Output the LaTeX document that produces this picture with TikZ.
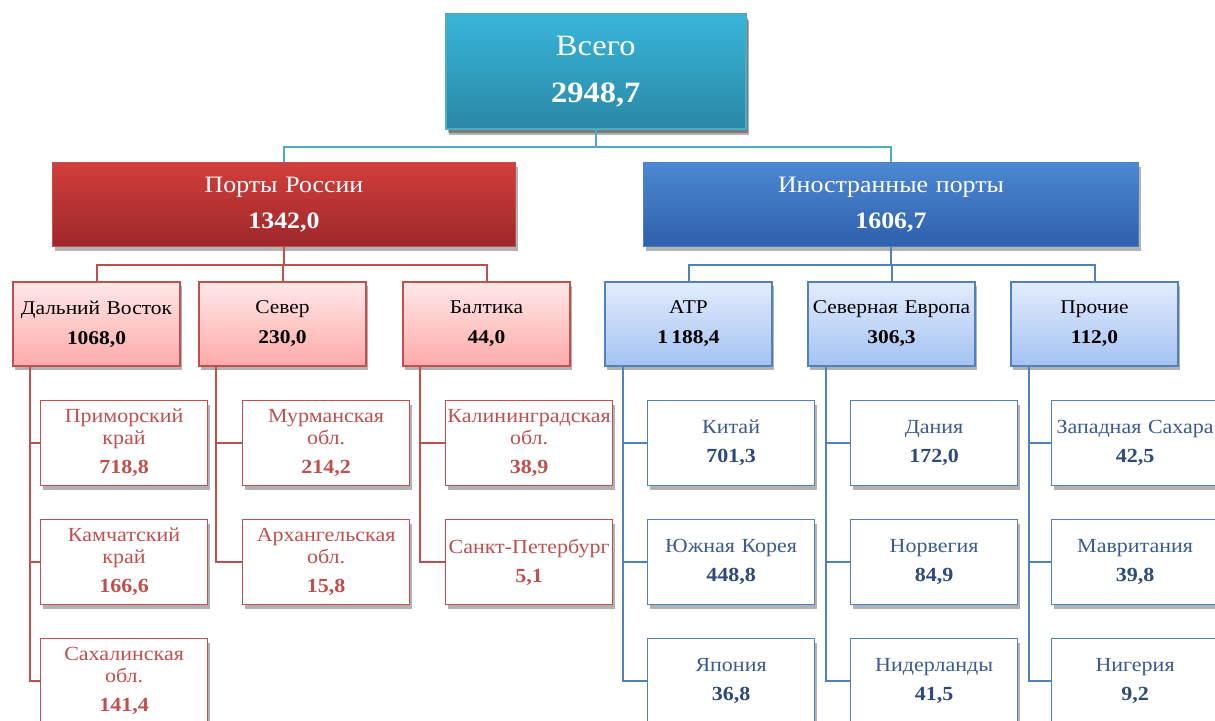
\documentclass[tikz,border=0pt]{standalone}
\usepackage{fontspec}
\setmainfont{Liberation Serif}[FakeStretch=1.1]
\usetikzlibrary{shadows}
\definecolor{tealtop}{HTML}{38B5DA}
\definecolor{tealbot}{HTML}{2A88A5}
\definecolor{tealline}{HTML}{4BACC6}
\definecolor{redtop}{HTML}{D23E3B}
\definecolor{redbot}{HTML}{9E282A}
\definecolor{bluetop}{HTML}{4C88D3}
\definecolor{bluebot}{HTML}{2F60AC}
\definecolor{redline}{HTML}{C0504D}
\definecolor{blueline}{HTML}{4F81BD}
\definecolor{pinktop}{HTML}{FFE8E8}
\definecolor{pinkbot}{HTML}{FFA9A9}
\definecolor{lbluetop}{HTML}{E2ECFC}
\definecolor{lbluebot}{HTML}{A4C2F2}
\definecolor{redtext}{HTML}{C0504D}
\definecolor{bluetext}{HTML}{3A5B92}
\definecolor{bluenum}{HTML}{2C4A7C}
\tikzset{
  box/.style={draw, inner sep=0pt, anchor=north west, align=center,
    drop shadow={fill=black, opacity=0.3, shadow xshift=2pt, shadow yshift=-4pt}},
  topbox/.style={box, draw=tealline, line width=1.5pt, top color=tealtop, bottom color=tealbot,
    text=white, text width=300pt, minimum height=115pt,
    font=\fontsize{29.5}{47}\selectfont,
    drop shadow={fill=black, opacity=0.3, shadow xshift=3pt, shadow yshift=-6pt}},
  redbig/.style={box, draw=redline, line width=1pt, top color=redtop, bottom color=redbot,
    text=white, minimum height=84pt, font=\fontsize{23.5}{36}\selectfont},
  bluebig/.style={box, draw=blueline, line width=1pt, top color=bluetop, bottom color=bluebot,
    text=white, minimum height=84pt, font=\fontsize{23.5}{36}\selectfont},
  redmid/.style={box, draw=redline, line width=2pt, top color=pinktop, bottom color=pinkbot,
    text=black, text width=167pt, minimum height=84pt, font=\fontsize{19.5}{30}\selectfont},
  bluemid/.style={box, draw=blueline, line width=2pt, top color=lbluetop, bottom color=lbluebot,
    text=black, text width=167pt, minimum height=84pt, font=\fontsize{19.5}{30}\selectfont},
  redleaf/.style={box, draw=redline, line width=1.2pt, fill=white, text=redtext,
    text width=167pt, minimum height=85pt, font=\fontsize{20}{22}\selectfont},
  blueleaf/.style={box, draw=blueline, line width=1.2pt, fill=white, text=bluetext,
    text width=167pt, minimum height=85pt, font=\fontsize{20}{22}\selectfont},
  toplink/.style={draw=tealline, line width=2pt},
  redlink/.style={draw=redline, line width=2pt},
  bluelink/.style={draw=blueline, line width=2pt},
  redleaflink/.style={draw=redline, line width=1.3pt},
  blueleaflink/.style={draw=blueline, line width=1.3pt},
}
\newcommand{\bn}[1]{\textbf{\color{bluenum}#1}}
\begin{document}
\begin{tikzpicture}[x=1pt,y=-1pt]
\clip (0,0) rectangle (1215,720);
\fill[white] (0,0) rectangle (1215,720);

% level 1
\node[topbox] (top) at (445,13) {Всего\\\textbf{2948,7}};

% level 2
\node[redbig, text width=463pt] (ru) at (52,162) {Порты России\\\textbf{1342,0}};
\node[bluebig, text width=495pt] (fo) at (643,162) {Иностранные порты\\\textbf{1606,7}};

% level 3
\node[redmid] (dv) at (12,281) {Дальний Восток\\\textbf{1068,0}};
\node[redmid] (sev) at (198,281) {Север\\\textbf{230,0}};
\node[redmid] (balt) at (402,281) {Балтика\\\textbf{44,0}};
\node[bluemid] (atr) at (604,281) {АТР\\\textbf{1\,188,4}};
\node[bluemid] (seu) at (807,281) {Северная Европа\\\textbf{306,3}};
\node[bluemid] (pr) at (1010,281) {Прочие\\\textbf{112,0}};

% level 4 red
\node[redleaf] (prim) at (40,400) {Приморский\\край\\[7pt]\textbf{718,8}};
\node[redleaf] (kam) at (40,519) {Камчатский\\край\\[7pt]\textbf{166,6}};
\node[redleaf] (sakh) at (40,638) {Сахалинская\\обл.\\[7pt]\textbf{141,4}};
\node[redleaf] (mur) at (242,400) {Мурманская\\обл.\\[7pt]\textbf{214,2}};
\node[redleaf] (arh) at (242,519) {Архангельская\\обл.\\[7pt]\textbf{15,8}};
\node[redleaf] (kal) at (445,400) {Калининградская\\обл.\\[7pt]\textbf{38,9}};
\node[redleaf] (spb) at (445,519) {Санкт-Петербург\\[7pt]\textbf{5,1}};

% level 4 blue
\node[blueleaf] (chi) at (647,400) {Китай\\[7pt]\bn{701,3}};
\node[blueleaf] (kor) at (647,519) {Южная Корея\\[7pt]\bn{448,8}};
\node[blueleaf] (jap) at (647,638) {Япония\\[7pt]\bn{36,8}};
\node[blueleaf] (den) at (850,400) {Дания\\[7pt]\bn{172,0}};
\node[blueleaf] (nor) at (850,519) {Норвегия\\[7pt]\bn{84,9}};
\node[blueleaf] (ned) at (850,638) {Нидерланды\\[7pt]\bn{41,5}};
\node[blueleaf] (zs) at (1051,400) {Западная Сахара\\[7pt]\bn{42,5}};
\node[blueleaf] (mav) at (1051,519) {Мавритания\\[7pt]\bn{39,8}};
\node[blueleaf] (nig) at (1051,638) {Нигерия\\[7pt]\bn{9,2}};

% connectors level 1 -> 2
\draw[toplink] (top.south) -- ++(0,17) -| (ru.north);
\draw[toplink] (top.south) -- ++(0,17) -| (fo.north);

% level 2 -> 3
\draw[redlink] (ru.south) -- ++(0,18) -| (dv.north);
\draw[redlink] (ru.south) -- ++(0,18) -| (sev.north);
\draw[redlink] (ru.south) -- ++(0,18) -| (balt.north);
\draw[bluelink] (fo.south) -- ++(0,18) -| (atr.north);
\draw[bluelink] (fo.south) -- ++(0,18) -| (seu.north);
\draw[bluelink] (fo.south) -- ++(0,18) -| (pr.north);

% level 3 -> 4
\coordinate (dvb) at ([xshift=18pt]dv.south west);
\coordinate (sevb) at ([xshift=18pt]sev.south west);
\coordinate (baltb) at ([xshift=18pt]balt.south west);
\coordinate (atrb) at ([xshift=19pt]atr.south west);
\coordinate (seub) at ([xshift=19pt]seu.south west);
\coordinate (prb) at ([xshift=19pt]pr.south west);

\draw[redleaflink] (dvb) |- (prim.west);
\draw[redleaflink] (dvb) |- (kam.west);
\draw[redleaflink] (dvb) |- (sakh.west);
\draw[redleaflink] (sevb) |- (mur.west);
\draw[redleaflink] (sevb) |- (arh.west);
\draw[redleaflink] (baltb) |- (kal.west);
\draw[redleaflink] (baltb) |- (spb.west);
\draw[blueleaflink] (atrb) |- (chi.west);
\draw[blueleaflink] (atrb) |- (kor.west);
\draw[blueleaflink] (atrb) |- (jap.west);
\draw[blueleaflink] (seub) |- (den.west);
\draw[blueleaflink] (seub) |- (nor.west);
\draw[blueleaflink] (seub) |- (ned.west);
\draw[blueleaflink] (prb) |- (zs.west);
\draw[blueleaflink] (prb) |- (mav.west);
\draw[blueleaflink] (prb) |- (nig.west);
\end{tikzpicture}
\end{document}
